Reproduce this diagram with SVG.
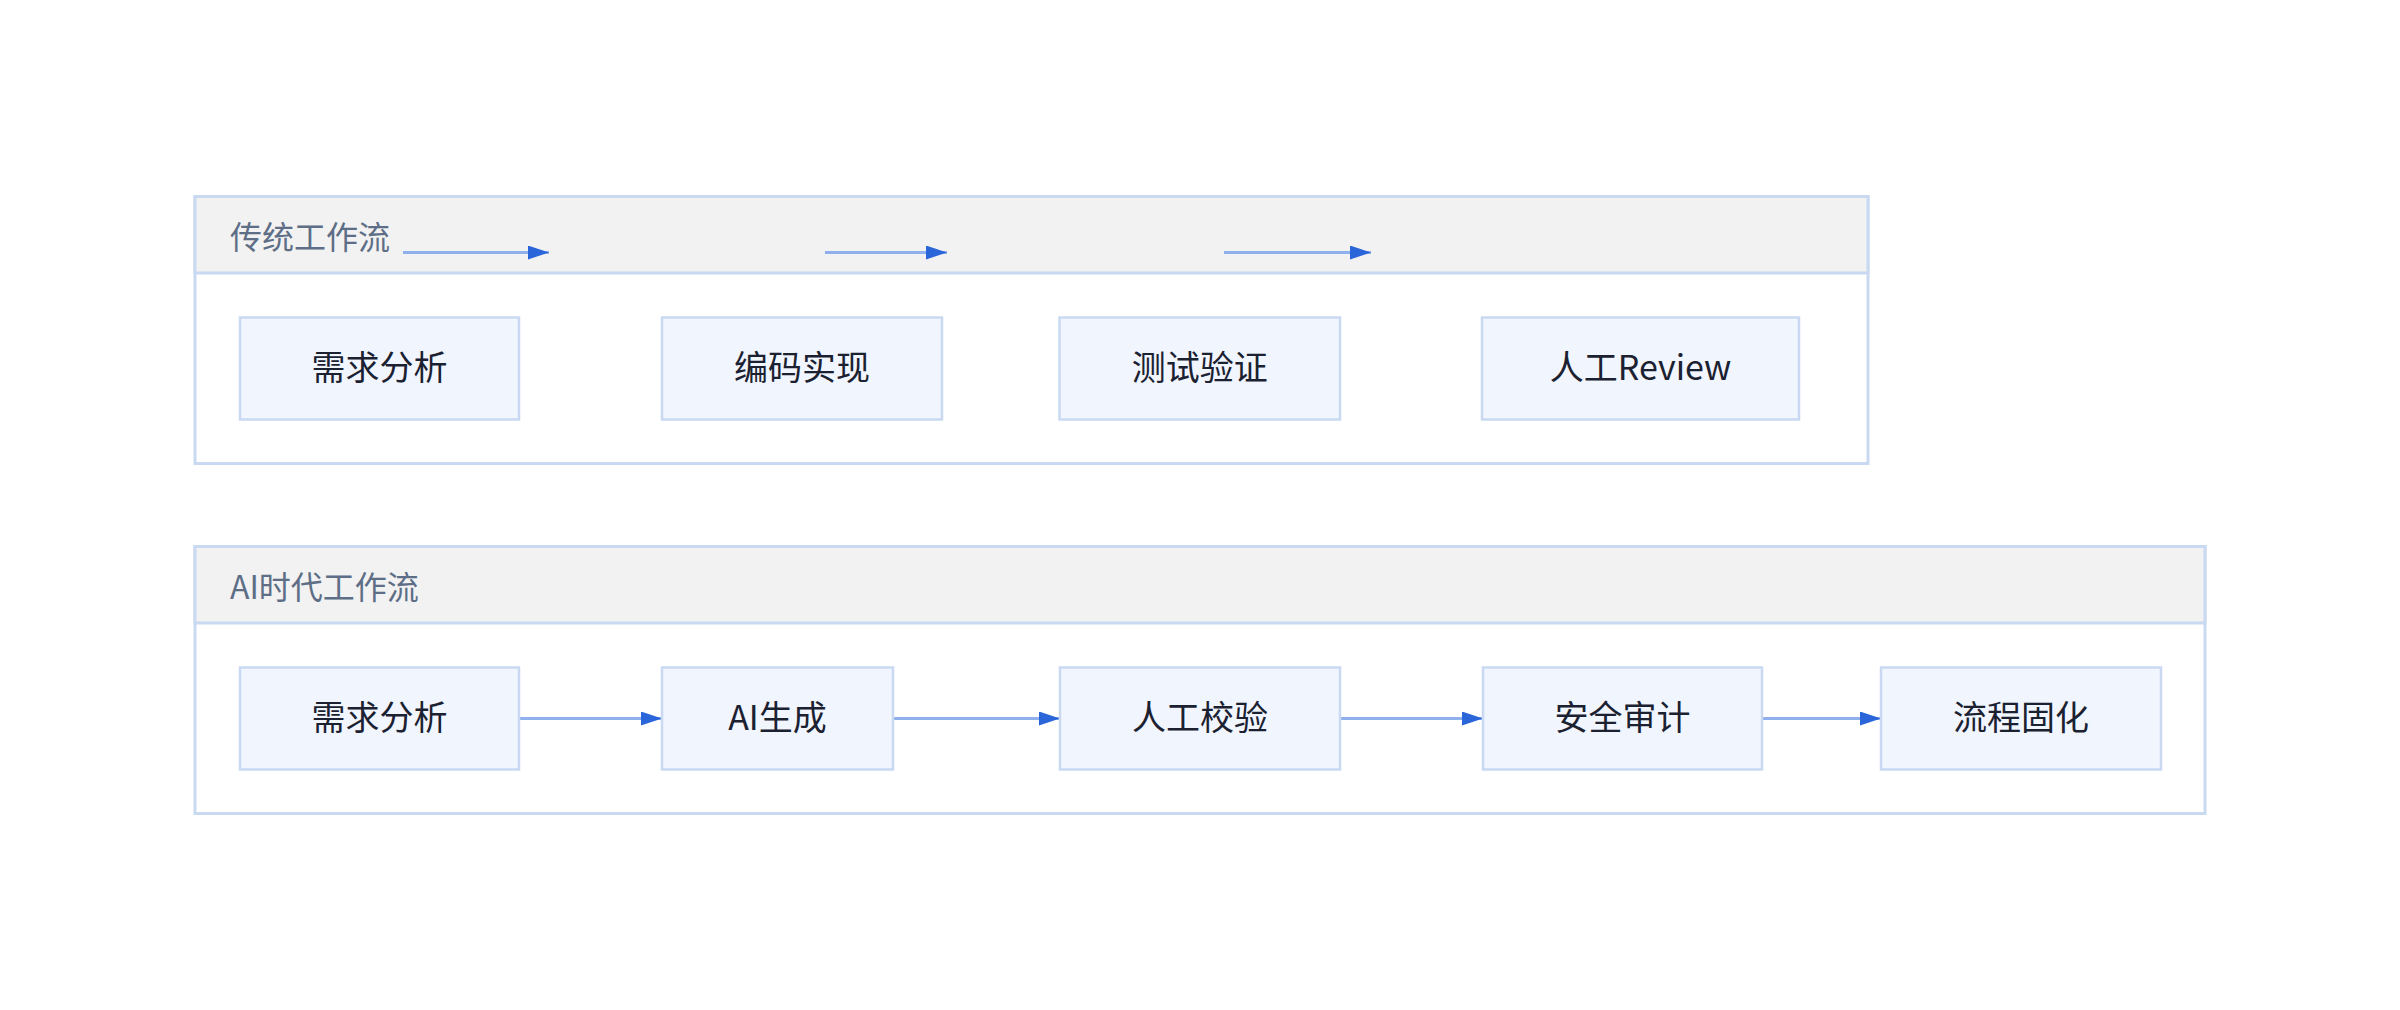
<svg xmlns="http://www.w3.org/2000/svg" width="2400" height="1010" viewBox="0 0 2400 1010">
<defs>
<style>
.cont{fill:#ffffff;stroke:#c9d9f2;stroke-width:3}
.hdr{fill:#f2f2f2;stroke:#c9d9f2;stroke-width:3}
.htxt{font-family:"Noto Sans CJK SC","Noto Sans",sans-serif;font-size:32px;fill:#5d6e86}
.node rect{fill:#f0f5fe;stroke:#c9d9f2;stroke-width:2.5}
.node text{font-family:"Noto Sans CJK SC","Noto Sans",sans-serif;font-size:34px;fill:#1b2130;text-anchor:middle}
.edge{stroke:#8fb0ec;stroke-width:3;fill:none;marker-end:url(#ah)}
</style>
<marker id="ah" markerUnits="userSpaceOnUse" markerWidth="22" markerHeight="14" refX="21" refY="7" orient="auto">
<path d="M0,0 L21,7 L0,14 z" fill="#2a66d9"/>
</marker>
</defs>
<rect width="2400" height="1010" fill="#ffffff"/>

<g id="cluster-traditional">
<rect class="cont" x="195" y="196.5" width="1673" height="267"/>
<rect class="hdr" x="195" y="196.5" width="1673" height="76.5"/>
<text class="htxt" x="230" y="249">传统工作流</text>
</g>

<g id="cluster-ai">
<rect class="cont" x="195" y="546.5" width="2010" height="267"/>
<rect class="hdr" x="195" y="546.5" width="2010" height="76.5"/>
<text class="htxt" x="230" y="599">AI时代工作流</text>
</g>

<g id="connectors">
<line class="edge" x1="403" y1="252.5" x2="549" y2="252.5"/>
<line class="edge" x1="825" y1="252.5" x2="947" y2="252.5"/>
<line class="edge" x1="1224" y1="252.5" x2="1371" y2="252.5"/>
<line class="edge" x1="520" y1="718.5" x2="662" y2="718.5"/>
<line class="edge" x1="893" y1="718.5" x2="1060" y2="718.5"/>
<line class="edge" x1="1340" y1="718.5" x2="1483" y2="718.5"/>
<line class="edge" x1="1762" y1="718.5" x2="1881" y2="718.5"/>
</g>

<g id="t1" class="node"><rect x="240" y="317.5" width="279" height="102"/><text x="379.5" y="380">需求分析</text></g>
<g id="t2" class="node"><rect x="662" y="317.5" width="280" height="102"/><text x="802" y="380">编码实现</text></g>
<g id="t3" class="node"><rect x="1059.5" y="317.5" width="280.5" height="102"/><text x="1199.75" y="380">测试验证</text></g>
<g id="t4" class="node"><rect x="1482" y="317.5" width="317" height="102"/><text x="1640.5" y="380">人工Review</text></g>

<g id="a1" class="node"><rect x="240" y="667.5" width="279" height="102"/><text x="379.5" y="730">需求分析</text></g>
<g id="a2" class="node"><rect x="662" y="667.5" width="231" height="102"/><text x="777.5" y="730">AI生成</text></g>
<g id="a3" class="node"><rect x="1060" y="667.5" width="280" height="102"/><text x="1200" y="730">人工校验</text></g>
<g id="a4" class="node"><rect x="1483" y="667.5" width="279" height="102"/><text x="1622.5" y="730">安全审计</text></g>
<g id="a5" class="node"><rect x="1881" y="667.5" width="280" height="102"/><text x="2021" y="730">流程固化</text></g>
</svg>
